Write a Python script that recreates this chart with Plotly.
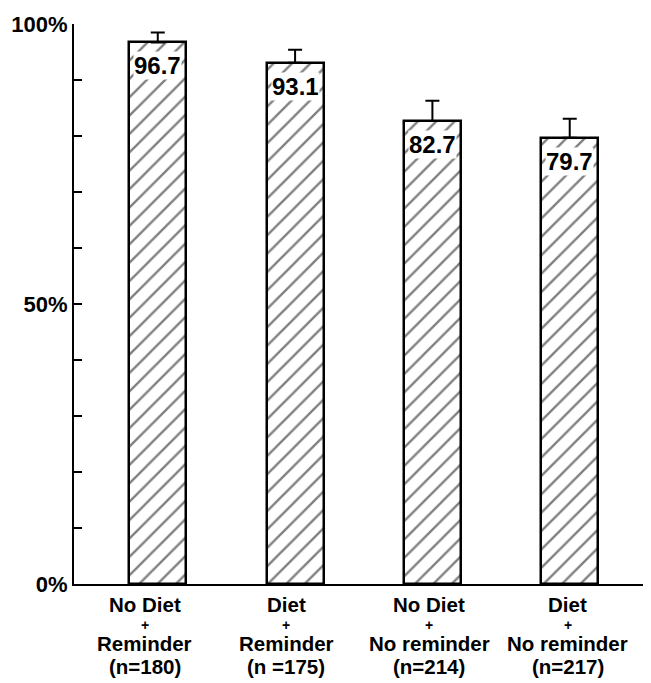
import plotly.graph_objects as go

categories = [["No Diet", "+", "Reminder", "(n=180)"],
              ["Diet", "+", "Reminder", "(n =175)"],
              ["No Diet", "+", "No reminder", "(n=214)"],
              ["Diet", "+", "No reminder", "(n=217)"]]
values = [96.7, 93.1, 82.7, 79.7]
value_labels = ["96.7", "93.1", "82.7", "79.7"]
err_plus = [1.8, 2.3, 3.6, 3.4]
ytick_vals = [0, 10, 20, 30, 40, 50, 60, 70, 80, 90, 100]
ytick_text = ["0%", "", "", "", "", "50%", "", "", "", "", "100%"]

FONT = "Liberation Sans, Arial, sans-serif"
xs = list(range(len(values)))
label_xshift = [-13, -9, -3, -2]
line_yshift = [20.5, 40.5, 59, 82]
line_size = [20.5, 14, 20.5, 20.5]

fig = go.Figure()
fig.add_trace(go.Bar(
    x=xs, y=values, width=0.415,
    marker=dict(color="white",
                line=dict(color="black", width=2.5),
                pattern=dict(shape="/", fgcolor="black", bgcolor="white",
                             size=13, solidity=0.18)),
    error_y=dict(type="data", symmetric=False, array=err_plus,
                 arrayminus=[0] * len(values), color="black",
                 thickness=2, width=7),
    showlegend=False, hoverinfo="skip",
))

for x, v, t in zip(xs, values, value_labels):
    fig.add_annotation(x=x, y=v, xref="x", yref="y", text=t,
                       showarrow=False, yanchor="top", yshift=-9,
                       bgcolor="white", borderpad=0,
                       font=dict(family=FONT, size=24, color="black",
                                 weight="bold"))

for x, lines, dx in zip(xs, categories, label_xshift):
    for k, line in enumerate(lines):
        fig.add_annotation(x=x, y=0, xref="x", yref="paper", text=line,
                           showarrow=False, yanchor="middle",
                           yshift=-line_yshift[k], xshift=dx,
                           font=dict(family=FONT, size=line_size[k],
                                     color="black", weight="bold"))

# page body has an 8px margin, so the figure is shrunk by that amount
fig.update_layout(
    width=643, height=675,
    margin=dict(l=66, r=3, t=16, b=99),
    paper_bgcolor="white", plot_bgcolor="white",
    font=dict(family=FONT, color="black"),
    bargap=0,
)
fig.update_xaxes(range=[-0.61, 3.57], showline=True, linecolor="black",
                 linewidth=2, showticklabels=False, ticks="",
                 showgrid=False, zeroline=False)
fig.update_yaxes(range=[0, 100], showline=True, linecolor="black",
                 linewidth=2, tickvals=ytick_vals, ticktext=ytick_text,
                 ticks="inside", ticklen=8, tickwidth=2, tickcolor="black",
                 showgrid=False, zeroline=False,
                 tickfont=dict(family=FONT, size=22, color="black",
                               weight="bold"))

fig.write_html("out.html")
